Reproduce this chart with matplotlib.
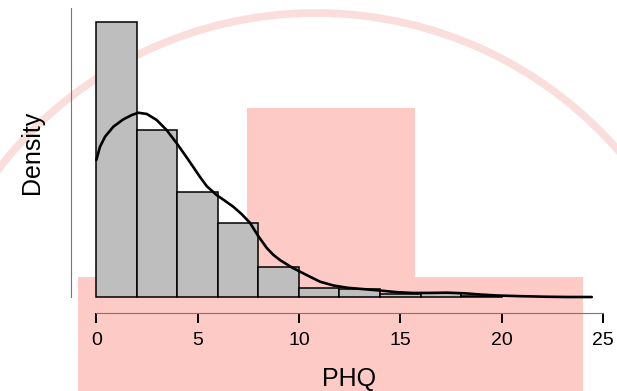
import matplotlib.pyplot as plt
import matplotlib.patches as mpatches
import numpy as np

plt.rcParams['font.family'] = ['Liberation Sans', 'DejaVu Sans']

# histogram (bin width 2), density values
bin_left = [0, 2, 4, 6, 8, 10, 12, 14, 16, 18]
bin_density = [0.203, 0.123, 0.0775, 0.0546, 0.0221, 0.0066, 0.0060, 0.0020, 0.0032, 0.0010]

# density curve points
kde_x = [0, 0.18, 0.43, 0.84, 1.33, 1.75, 2.07, 2.49, 2.98, 3.47, 3.97, 4.46,
         4.79, 5.12, 5.45, 5.94, 6.35, 6.76, 7.17, 7.58, 7.99, 8.41, 8.73, 9.06,
         9.64, 10.38, 11.04, 11.7, 12.4, 13.2, 14.0, 14.8, 15.6, 16.4, 17.3,
         18.2, 19.0, 19.8, 21.0, 22.2, 23.3, 24.45]
kde_y = [0.1011, 0.1109, 0.1183, 0.1257, 0.1311, 0.1343, 0.1360, 0.1351, 0.1306,
         0.1232, 0.1134, 0.1030, 0.0958, 0.0885, 0.0818, 0.0752, 0.0710, 0.0666,
         0.0612, 0.0548, 0.0450, 0.0362, 0.0312, 0.0273, 0.0219, 0.0162, 0.0113,
         0.0085, 0.0068, 0.0058, 0.0048, 0.0036, 0.0030, 0.0030, 0.0032, 0.0027,
         0.0018, 0.0011, 0.0006, 0.0002, 0.0, 0.0]

xticks = [0, 5, 10, 15, 20, 25]

fig = plt.figure(figsize=(6.17, 3.91), dpi=100)

# watermark in the background (pixel coords, y down)
bg = fig.add_axes([0, 0, 1, 1], zorder=-1)
bg.set_xlim(0, 617)
bg.set_ylim(391, 0)
bg.axis('off')
pink = '#fdcac6'
bg.add_patch(mpatches.Rectangle((78, 277), 505, 120, color=pink, lw=0))
bg.add_patch(mpatches.Rectangle((247, 108), 168, 290, color=pink, lw=0))
bg.add_patch(mpatches.Arc((316, 414), 802, 802, theta1=170, theta2=370,
                          color='#f9dedc', lw=5.5))

ax = fig.add_axes([71/617, (391-313)/391, (610-71)/617, (313-8)/391])
ax.patch.set_alpha(0)

ax.bar(bin_left, bin_density, width=2, align='edge', color='#bebebe',
       edgecolor='black', linewidth=1.1, zorder=2)
ax.plot(kde_x, kde_y, color='black', lw=1.9, zorder=3,
        solid_capstyle='round', solid_joinstyle='round')

ax.set_xlim(-1.25, 25.35)
ax.set_ylim(-0.0118, 0.2133)
ax.set_xticks(xticks)
ax.set_yticks([])
ax.tick_params(axis='x', length=7, width=1.4, pad=7, labelsize=14, color='black')

for s in ['top', 'right']:
    ax.spines[s].set_visible(False)
ax.spines['bottom'].set_bounds(0, 25)
ax.spines['bottom'].set_color('#777777')
ax.spines['bottom'].set_linewidth(0.8)
ax.spines['left'].set_bounds(0, 0.2133)
ax.spines['left'].set_color('#777777')
ax.spines['left'].set_linewidth(0.8)

ax.set_xlabel('PHQ', fontsize=18)
ax.set_ylabel('Density', fontsize=18)
ax.xaxis.set_label_coords((349 - 71) / 539, (313 - 367) / 305)
ax.yaxis.set_label_coords((44 - 71) / 539, (313 - 152) / 305)

fig.savefig('out.png', dpi=100)
